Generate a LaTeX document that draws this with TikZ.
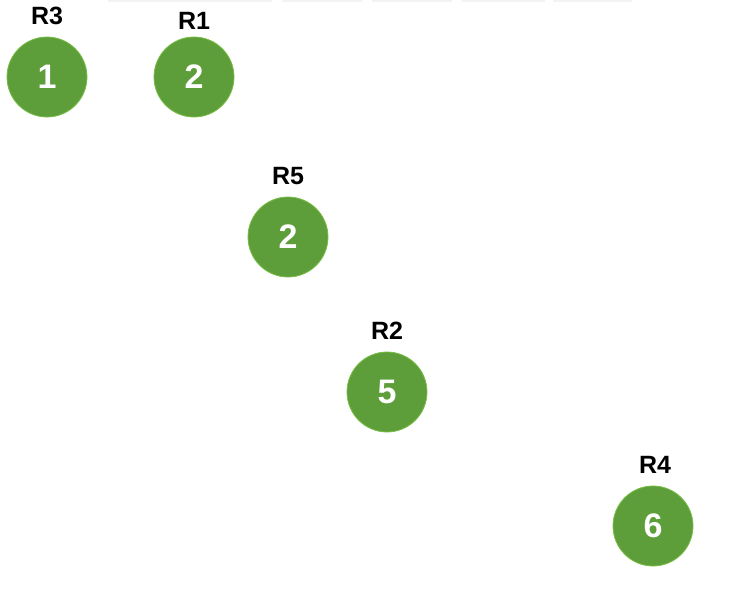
\documentclass[tikz,border=0pt]{standalone}
\usepackage{fontspec}
\setmainfont{Liberation Sans}
\definecolor{nodegreen}{RGB}{94,158,58}
\definecolor{nodeedge}{RGB}{120,190,70}
\definecolor{faint}{RGB}{243,243,243}
\begin{document}
\begin{tikzpicture}[x=1pt,y=-1pt,
  ball/.style={circle,fill=nodegreen,draw=nodeedge,line width=0.8pt,minimum size=80pt,inner sep=0pt,text=white,font=\fontsize{34}{34}\selectfont\bfseries},
  tag/.style={inner sep=0pt,font=\fontsize{25}{25}\selectfont\bfseries,text=black}]
\useasboundingbox (0,0) rectangle (734,610);
\fill[white] (0,0) rectangle (734,610);
\foreach \a/\b in {108/272,282/362,372/452,462/545,553/632}
  \draw[faint,line width=1.5pt] (\a,0.8) -- (\b,0.8);
\node[ball] (n3) at (47,77) {1};
\node[ball] (n1) at (194,77) {2};
\node[ball] (n5) at (288,237) {2};
\node[ball] (n2) at (387,392) {5};
\node[ball] (n4) at (653,526) {6};
\node[tag] (l3) at (47,16) {R3};
\node[tag] (l1) at (194,21) {R1};
\node[tag] (l5) at (288,176) {R5};
\node[tag] (l2) at (387,331) {R2};
\node[tag] (l4) at (655,465) {R4};
\end{tikzpicture}
\end{document}
